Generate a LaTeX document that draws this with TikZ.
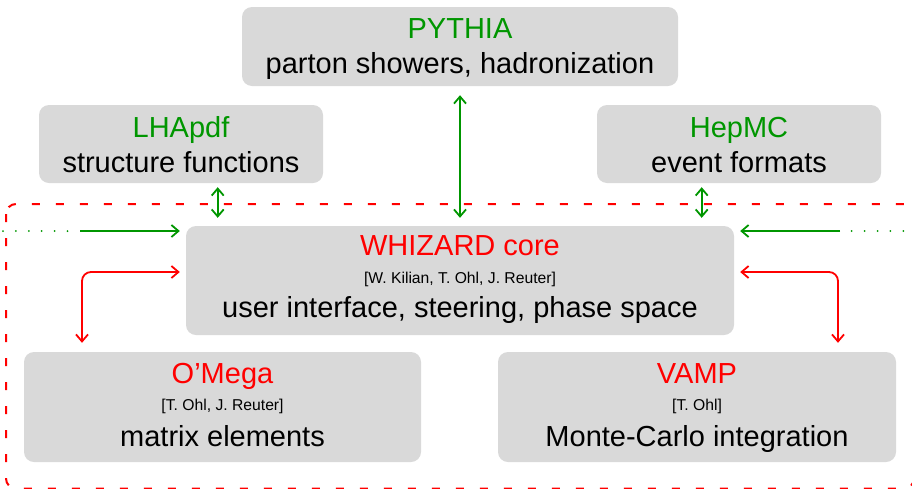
\documentclass[tikz,border=0pt]{standalone}
\usepackage{fontspec}
\setmainfont{Liberation Sans}
\usetikzlibrary{arrows.meta}
\definecolor{boxgray}{HTML}{D9D9D9}
\definecolor{pgreen}{RGB}{0,150,0}
\definecolor{pred}{RGB}{255,0,0}
\newcommand{\bigfont}{\fontsize{29}{35}\selectfont}
\newcommand{\authfont}{\fontsize{15.7}{19}\selectfont}
\begin{document}
\begin{tikzpicture}[x=1pt, y=-1pt, line join=round, >={Straight Barb[length=7pt,width=12pt]},
	box/.style={fill=boxgray, rounded corners=10pt, align=center, font=\bigfont, inner sep=0pt, text depth=8pt},
	garrow/.style={pgreen, line width=1.8pt},
	gdots/.style={pgreen, line width=2pt, line cap=round, dash pattern=on 0pt off 12.9pt},
	rarrow/.style={pred, line width=1.8pt, rounded corners=9pt},
	]
	\useasboundingbox (0,0) rectangle (912,488);
	% red frame round the WHIZARD system
	\draw[pred, line width=2pt, rounded corners=10pt, dash pattern=on 8pt off 16pt] (6,204) rectangle (914,488.5);
	% boxes
	\node[box, minimum width=436pt, minimum height=79pt, text height=61pt] (pythia) at (460,46.5)
		{\textcolor{pgreen}{PYTHIA}\\ parton showers, hadronization};
	\node[box, minimum width=284pt, minimum height=78pt, text height=64pt] (lhapdf) at (181,144)
		{\textcolor{pgreen}{LHApdf}\\ structure functions};
	\node[box, minimum width=284pt, minimum height=78pt, text height=64pt] (hepmc) at (739,144)
		{\textcolor{pgreen}{HepMC}\\ event formats};
	\node[box, minimum width=548pt, minimum height=109pt, text height=82pt] (core) at (460,280.5)
		{\textcolor{pred}{WHIZARD core}\\[-7pt] {\authfont [W. Kilian, T. Ohl, J. Reuter]}\\[-1pt] user interface, steering, phase space};
	\node[box, minimum width=397pt, minimum height=110pt, text height=86pt] (omega) at (222.5,407)
		{\textcolor{pred}{O'Mega}\\[-8pt] {\authfont [T. Ohl, J. Reuter]}\\[1pt] matrix elements};
	\node[box, minimum width=398pt, minimum height=110pt, text height=86pt] (vamp) at (697,407)
		{\textcolor{pred}{VAMP}\\[-8pt] {\authfont [T. Ohl]}\\[1pt] Monte-Carlo integration};
	% green links to external packages
	\draw[garrow, <->, shorten <=9pt, shorten >=8pt] (pythia) -- (core);
	\draw[garrow, <->, shorten <=4pt, shorten >=8pt] ([xshift=36.7pt]lhapdf.south) -- ([xshift=36.7pt]lhapdf.south |- core.north);
	\draw[garrow, <->, shorten <=4pt, shorten >=8pt] ([xshift=-37.3pt]hepmc.south) -- ([xshift=-37.3pt]hepmc.south |- core.north);
	\coordinate (ldot) at (3,231);
	\coordinate (lin) at (80,231);
	\coordinate (rin) at (840,231);
	\coordinate (rdot) at (912,231);
	\draw[gdots] (ldot) -- ([xshift=-11pt]lin);
	\draw[gdots] ([xshift=11.7pt]rin) -- (rdot);
	\draw[garrow, ->, shorten >=6pt] (lin) -- (lin -| core.west);
	\draw[garrow, ->, shorten >=6pt] (rin) -- (rin -| core.east);
	% red links inside WHIZARD
	\draw[rarrow, <->, shorten <=9pt, shorten >=6pt] ([xshift=-140.5pt]omega.north) |- ([yshift=8.5pt]core.west);
	\draw[rarrow, <->, shorten <=9pt, shorten >=6pt] ([xshift=141pt]vamp.north) |- ([yshift=8.5pt]core.east);
\end{tikzpicture}
\end{document}
